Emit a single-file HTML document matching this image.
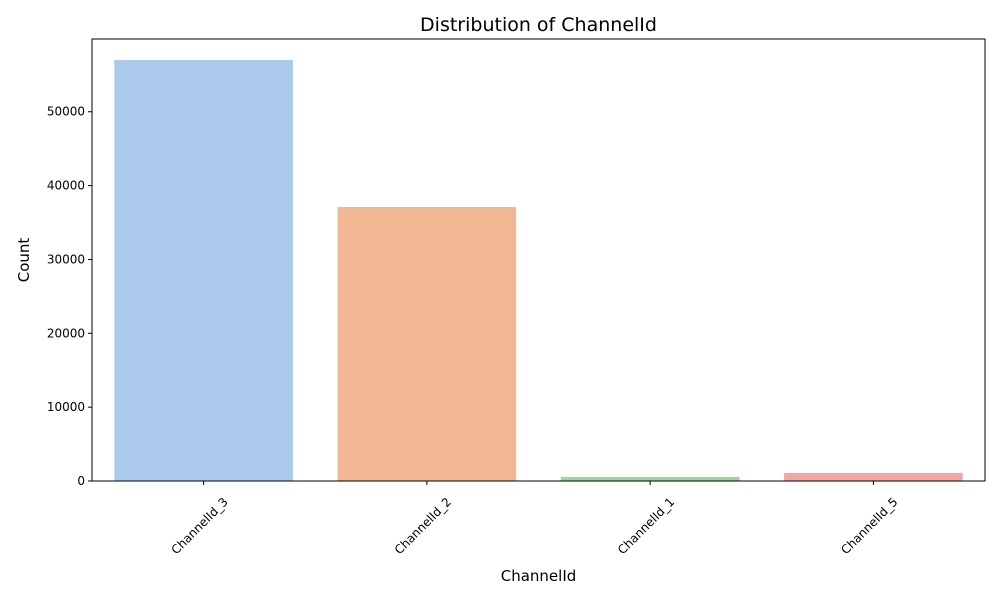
<!DOCTYPE html>
<html><head><meta charset="utf-8"><style>
body{margin:0;background:#fff;font-family:"Liberation Sans","DejaVu Sans",sans-serif}
</style></head><body>
<svg id="chart" width="1000" height="600" xmlns="http://www.w3.org/2000/svg" font-family="DejaVu Sans, Liberation Sans, sans-serif"></svg>
<script>
const categories=["ChannelId_3","ChannelId_2","ChannelId_1","ChannelId_5"];
const counts=[57000,37100,550,1100];
const colors=["#abc9ed","#f1b893","#97d8a0","#f2a8a5"];
const yTicks=[0,10000,20000,30000,40000,50000];
const L=92,R=985,T=39,B=481;
const yMax=59850;
const svg=document.getElementById('chart');
const NS="http://www.w3.org/2000/svg";
function y(v){return B-(v/yMax)*(B-T);}
const band=(R-L)/categories.length;
function xc(i){return L+band*(i+0.5);}
function mk(tag,attrs,text){const e=document.createElementNS(NS,tag);for(const k in attrs)e.setAttribute(k,attrs[k]);if(text!==undefined)e.textContent=text;svg.appendChild(e);return e;}
categories.forEach((c,i)=>{
  const w=band*0.8;
  const r=mk('rect',{x:xc(i)-w/2,y:y(counts[i]),width:w,height:B-y(counts[i]),fill:colors[i]});
  
  
  const t=mk('line',{x1:xc(i),x2:xc(i),y1:B,y2:B+4,stroke:'#000'});
  
  
  const lx=xc(i)-4,ly=526;
  const lb=mk('text',{x:lx,y:ly+4,'font-size':12,'text-anchor':'middle',transform:`rotate(-45 ${lx} ${ly})`},c);
  
  
});
yTicks.forEach(v=>{
  const t=mk('line',{x1:L-4,x2:L,y1:y(v),y2:y(v),stroke:'#000'});
  
  
  const lb=mk('text',{x:L-7,y:y(v)+4,'font-size':12,'text-anchor':'end'},v);
  
  
});
const f=mk('rect',{x:L,y:T,width:R-L,height:B-T,fill:'none',stroke:'#000','stroke-width':1});


const ti=mk('text',{x:(L+R)/2,y:31,'font-size':19,'text-anchor':'middle'},'Distribution of ChannelId');


const xt=mk('text',{x:(L+R)/2,y:581,'font-size':15,'text-anchor':'middle'},'ChannelId');


const yt=mk('text',{x:29,y:260,'font-size':15,'text-anchor':'middle',transform:'rotate(-90 29 260)'},'Count');


</script>
</body></html>
